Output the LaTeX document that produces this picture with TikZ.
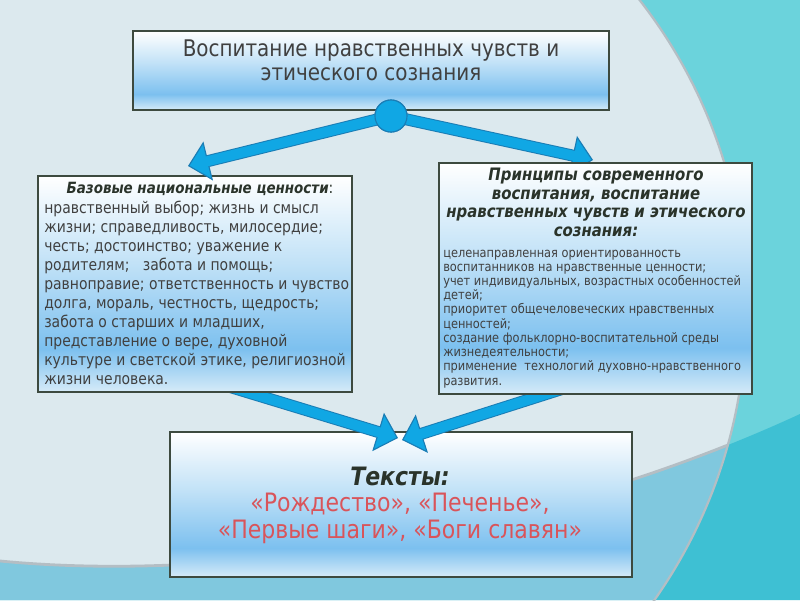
\documentclass[tikz,border=0pt]{standalone}
\usepackage{fontspec}
\setmainfont{DejaVu Sans}[FakeStretch=0.87,
  ItalicFont=DejaVu Sans Oblique,
  BoldFont=DejaVu Sans Bold,
  BoldItalicFont=DejaVu Sans Bold Oblique]
\usepackage{tikz}
\usetikzlibrary{positioning,arrows.meta}

\definecolor{bgpale}{HTML}{DCE9EE}
\definecolor{bgteal}{HTML}{6BD3DC}
\definecolor{bgdeep}{HTML}{3EC0D3}
\definecolor{bgband}{HTML}{80C8DE}
\definecolor{bgrim}{HTML}{B4BEC4}
\definecolor{panellow}{HTML}{D6EBF8}
\definecolor{paneldeep}{HTML}{7CC0EF}
\definecolor{panelmid}{HTML}{C2E2F7}
\definecolor{panelrim}{HTML}{3D4A3F}
\definecolor{arrowblue}{HTML}{10A7E4}
\definecolor{arrowrim}{HTML}{1A7DB5}
\definecolor{inkgrey}{HTML}{404040}
\definecolor{inkdark}{HTML}{2A332A}
\definecolor{inkred}{HTML}{D9545A}

\pgfdeclareverticalshading{panelshade}{100bp}{color(0bp)=(panellow); color(25bp)=(panellow); color(35bp)=(paneldeep); color(55bp)=(panelmid); color(75bp)=(white); color(100bp)=(white)}

\newcommand{\titlesize}{\fontsize{16.3}{16.6}\selectfont}
\newcommand{\bodysize}{\fontsize{11.4}{13.5}\selectfont}
\newcommand{\notesize}{\fontsize{9.3}{10.1}\selectfont}
\newcommand{\headsize}{\fontsize{11}{13.4}\selectfont\bfseries\itshape}
\newcommand{\bigheadsize}{\fontsize{12.2}{13.4}\selectfont\bfseries\itshape}
\newcommand{\listsize}{\fontsize{18}{18.5}\selectfont}

\tikzset{panel/.style={rectangle,draw=panelrim,line width=1.4pt,shade,shading=panelshade,inner sep=0pt},
  hub node/.style={circle,fill=arrowblue,draw=arrowrim,line width=0.8pt,minimum size=0.8cm,inner sep=0pt},
  flow rim/.style={draw=arrowrim,line width=0.3cm,
    -{Triangle[length=0.52cm,width=1cm,line width=0.8pt,color=arrowrim,fill=arrowblue]}},
  flow core/.style={draw=arrowblue,line width=0.25cm,shorten >=0.42cm},
  plain text/.style={inner sep=0pt,text=inkgrey},
}

\begin{document}
\begin{tikzpicture}[x=0.025cm,y=-0.025cm]
  \useasboundingbox (0,0) rectangle (800,600);
  \clip (0,0) rectangle (800,600);

  %% background
  \fill[bgteal] (0,0) rectangle (800,600);
  \fill[bgdeep] (0,561) .. controls (250,585) and (560,525) .. (800,414) -- (800,600) -- (0,600) -- cycle;
  \begin{scope}
    \clip (242,310) circle [radius=12.6cm];
    \fill[bgpale] (0,0) rectangle (800,600);
    \fill[bgband] (0,561) .. controls (250,585) and (560,525) .. (800,414) -- (800,600) -- (0,600) -- cycle;
    \draw[bgrim,line width=2pt] (0,561) .. controls (250,585) and (560,525) .. (800,414);
  \end{scope}
  \draw[bgrim,line width=1.6pt] (242,310) circle [radius=12.6cm];

  %% points
  \coordinate (tipbase) at (188,166);
  \coordinate (tipprin) at (593,160);
  \coordinate (basefoot) at (227,386);
  \coordinate (prinfoot) at (565,388);
  \coordinate (textsleft) at (398,438);
  \coordinate (textsright) at (402,440);

  %% panels
  \node[panel,minimum width=11.9cm,minimum height=1.975cm] (titlebox) at (371,70.5) {};
  \node[panel,minimum width=11.55cm,minimum height=3.625cm] (textsbox) at (401,504.5) {};

  \draw[flow rim] (basefoot) -- (textsleft);
  \draw[flow core] (basefoot) -- (textsleft);
  \draw[flow rim] (prinfoot) -- (textsright);
  \draw[flow core] (prinfoot) -- (textsright);

  \node[hub node] (hub) at (391,116) {};
  \draw[flow rim] (hub.center) -- (tipprin);
  \draw[flow core] (hub.center) -- (tipprin);

  \node[panel,minimum width=7.85cm,minimum height=5.4cm] (basebox) at (195,284) {};
  \node[panel,minimum width=7.825cm,minimum height=5.775cm] (prinbox) at (595.5,278.5) {};

  \draw[flow rim] (hub.center) -- (tipbase);
  \draw[flow core] (hub.center) -- (tipbase);
  \node[hub node] at (hub) {};

  %% texts (base = last line)
  \node[plain text,font=\titlesize,align=center,anchor=base] (titletext) at (371,80)
    {Воспитание нравственных чувств и\\ этического сознания};

  \node[plain text,text=inkdark,anchor=base] (basehead) at (200,193)
    {\headsize Базовые национальные ценности{\bodysize\upshape\mdseries:}};
  \node[plain text,font=\bodysize,align=left,anchor=base west] (basebody) at (44,384)
    {нравственный выбор; жизнь и смысл\\
     жизни; справедливость, милосердие;\\
     честь; достоинство; уважение к\\
     родителям;\ \ \ забота и помощь;\\
     равноправие; ответственность и чувство\\
     долга, мораль, честность, щедрость;\\
     забота о старших и младших,\\
     представление о вере, духовной\\
     культуре и светской этике, религиозной\\
     жизни человека.};

  \node[plain text,font=\bigheadsize,text=inkdark,align=center,anchor=base] (prinhead) at (596,236.7)
    {Принципы современного\\ воспитания, воспитание\\ нравственных чувств и этического\\ сознания:};
  \node[plain text,font=\notesize,align=left,anchor=base west] (prinbody) at (443,385)
    {целенаправленная ориентированность\\
     воспитанников на нравственные ценности;\\
     учет индивидуальных, возрастных особенностей\\
     детей;\\
     приоритет общечеловеческих нравственных\\
     ценностей;\\
     создание фольклорно-воспитательной среды\\
     жизнедеятельности;\\
     применение\ \ технологий духовно-нравственного\\
     развития.};

  \node[plain text,text=inkdark,anchor=base] (textshead) at (400,485)
    {\fontsize{18}{20}\selectfont\bfseries\itshape Тексты:};
  \node[plain text,font=\listsize,text=inkred,align=center,anchor=base] (textslist) at (400,538)
    {«Рождество», «Печенье»,\\ «Первые шаги», «Боги славян»};
\end{tikzpicture}
\end{document}
